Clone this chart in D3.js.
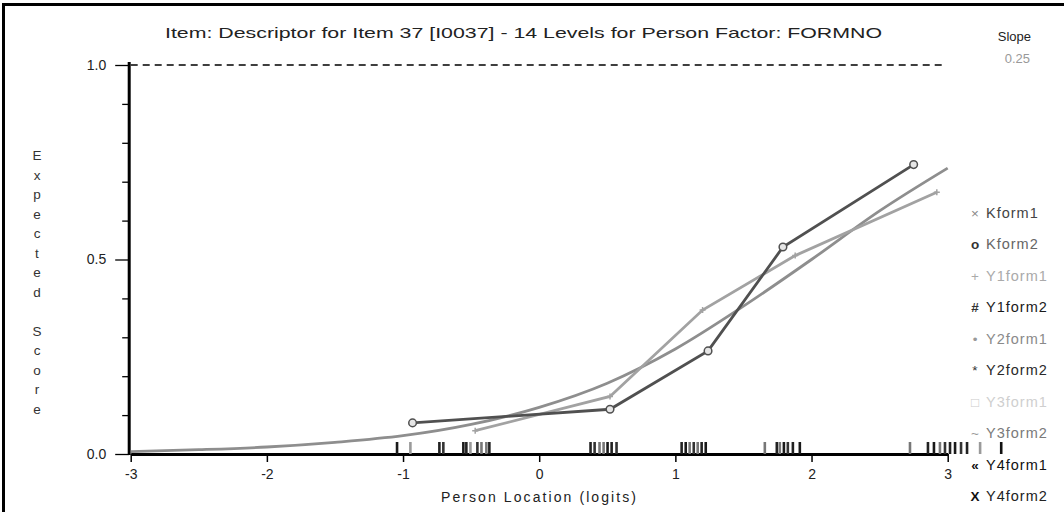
<!DOCTYPE html>
<html>
<head>
<meta charset="utf-8">
<script src="https://cdn.jsdelivr.net/npm/d3@7"></script>
<style>
  html, body { margin: 0; padding: 0; background: #fff; }
  svg { display: block; font-family: "Liberation Sans", Arial, sans-serif; }
</style>
</head>
<body>
<svg id="chart" width="1064" height="512"></svg>
<script>
// Item characteristic curve with observed class-interval means per form level
const titleText = "Item: Descriptor for Item 37 [I0037] - 14 Levels for Person Factor: FORMNO";
const xTitle = "Person Location (logits)";
const yTitle = "Expected Score";
const slopeLabel = "Slope";
const slopeValue = "0.25";

const thetaTicks = [-3, -2, -1, 0, 1, 2, 3];
const scoreTicks = [0, 0.5, 1.0];
const scoreMinorTicks = [0.1, 0.2, 0.3, 0.4, 0.6, 0.7, 0.8, 0.9];

// expected score curve, read at half-logit steps
const iccTheta = [-3, -2.5, -2, -1.5, -1, -0.5, 0, 0.5, 1, 1.5, 2, 2.5, 3];
const iccScore = [0.006, 0.011, 0.018, 0.03, 0.047, 0.076, 0.12, 0.182, 0.27, 0.38, 0.5, 0.625, 0.735];

// observed means for the two visible groups
const kform2Theta = [-0.93, 0.52, 1.24, 1.79, 2.75];
const kform2Score = [0.08, 0.115, 0.265, 0.532, 0.744];
const y1form1Theta = [-0.47, 0.52, 1.2, 1.88, 2.92];
const y1form1Score = [0.06, 0.148, 0.37, 0.51, 0.673];

// legend entries
const seriesNames = ["Kform1", "Kform2", "Y1form1", "Y1form2", "Y2form1", "Y2form2", "Y3form1", "Y3form2", "Y4form1", "Y4form2"];
const seriesSymbols = ["×", "o", "+", "#", "•", "*", "□", "~", "«", "X"];

// person locations shown as a rug along the axis, with the group each belongs to
const personLoc = [-1.044, -0.946, -0.733, -0.704, -0.557, -0.535, -0.505, -0.454, -0.424, -0.388, -0.366,
  0.377, 0.407, 0.443, 0.473, 0.502, 0.532, 0.568,
  1.046, 1.076, 1.105, 1.135, 1.164, 1.193, 1.223,
  1.657, 1.745, 1.767, 1.797, 1.826, 1.863, 1.914,
  2.723, 2.855, 2.899, 2.943, 2.98, 3.017, 3.054, 3.098, 3.142, 3.238, 3.393];
const personGroup = [9, 2, 3, 5, 9, 3, 2, 5, 7, 1, 3,
  3, 5, 7, 1, 9, 3, 5,
  3, 9, 7, 5, 1, 3, 9,
  7, 3, 1, 9, 5, 3, 9,
  7, 3, 9, 1, 5, 3, 9, 5, 3, 2, 8];

// styling
const textColor = ["#444", "#666", "#aaa", "#1a1a1a", "#8a8a8a", "#2a2a2a", "#cfcfcf", "#7a7a7a", "#111", "#222"];
const symbolColor = ["#888", "#333", "#aaa", "#333", "#999", "#333", "#ccc", "#999", "#111", "#111"];
const symbolWeight = ["normal", "bold", "normal", "bold", "normal", "normal", "normal", "normal", "bold", "bold"];
const rugColor = ["#555", "#777", "#9a9a9a", "#222", "#888", "#333", "#bbb", "#777", "#111", "#1a1a1a"];

const svg = d3.select("#chart");

// outer frame (only the left and top edges fall inside the view)
svg.append("rect")
  .attr("x", 3.5).attr("y", 4.5).attr("width", 1100).attr("height", 540)
  .attr("fill", "#fff").attr("stroke", "#000").attr("stroke-width", 3);

const x = d3.scaleLinear().domain([-3, 3]).range([130.7, 947.7]);
const y = d3.scaleLinear().domain([0, 1]).range([454, 65]);

// title
svg.append("text")
  .attr("x", 165).attr("y", 38)
  .attr("font-size", 15).attr("fill", "#222")
  .attr("textLength", 717).attr("lengthAdjust", "spacingAndGlyphs")
  .text(titleText);

// slope readout
svg.append("text").attr("x", 1031).attr("y", 41).attr("text-anchor", "end")
  .attr("font-size", 13).attr("fill", "#222").text(slopeLabel);
svg.append("text").attr("x", 1030).attr("y", 63).attr("text-anchor", "end")
  .attr("font-size", 13).attr("fill", "#999").text(slopeValue);

// dashed line at the maximum score
svg.append("line")
  .attr("x1", x(-3)).attr("x2", 945)
  .attr("y1", y(1)).attr("y2", y(1))
  .attr("stroke", "#000").attr("stroke-width", 1.3)
  .attr("stroke-dasharray", "7,5");

// y axis: minor ticks then major ticks with labels
const yMinor = svg.append("g").attr("transform", `translate(${x(-3) - 1.5},0)`)
  .call(d3.axisLeft(y).tickValues(scoreMinorTicks).tickSize(7).tickFormat(""));
yMinor.select(".domain").remove();
const yAxis = svg.append("g").attr("transform", `translate(${x(-3) - 1.5},0)`)
  .call(d3.axisLeft(y).tickValues(scoreTicks).tickSize(14).tickSizeOuter(0).tickPadding(9).tickFormat(d3.format(".1f")));
yAxis.select(".domain").attr("stroke-width", 3).attr("d", `M0,${y(0) + 1}V${y(1) - 3}`);
svg.selectAll(".tick line").attr("stroke-width", 1.3);
yAxis.selectAll("text").attr("font-size", 14).attr("fill", "#222").attr("font-family", "Liberation Sans, Arial, sans-serif");

// x axis
const xAxis = svg.append("g").attr("transform", `translate(0,${y(0)})`)
  .call(d3.axisBottom(x).tickValues(thetaTicks).tickSize(8).tickSizeOuter(0).tickPadding(7)
    .tickFormat(d => String(d)));
xAxis.select(".domain").attr("stroke-width", 3);
xAxis.selectAll(".tick line").attr("stroke-width", 1.5);
xAxis.selectAll("text").attr("font-size", 14).attr("fill", "#222").attr("font-family", "Liberation Sans, Arial, sans-serif");

// axis titles
svg.append("text").attr("x", 441).attr("y", 502)
  .attr("font-size", 14).attr("fill", "#222")
  .attr("textLength", 195).attr("lengthAdjust", "spacing")
  .text(xTitle);
svg.append("g").selectAll("text").data(yTitle.split(""))
  .join("text")
  .attr("x", 37).attr("y", (d, i) => 160 + i * 19.5)
  .attr("text-anchor", "middle")
  .attr("font-size", 13.5).attr("fill", "#333")
  .text(d => d);

// person rug
svg.append("g").selectAll("line").data(personLoc)
  .join("line")
  .attr("x1", d => x(d)).attr("x2", d => x(d))
  .attr("y1", y(0) - 12).attr("y2", y(0))
  .attr("stroke", (d, i) => rugColor[personGroup[i]])
  .attr("stroke-width", 2.6);

// expected score curve
const icc = iccTheta.map((t, i) => [t, iccScore[i]]);
svg.append("path").datum(icc)
  .attr("fill", "none").attr("stroke", "#8e8e8e").attr("stroke-width", 2.8)
  .attr("d", d3.line().x(d => x(d[0])).y(d => y(d[1])).curve(d3.curveMonotoneX));

// observed means
const y1 = y1form1Theta.map((t, i) => [t, y1form1Score[i]]);
svg.append("path").datum(y1)
  .attr("fill", "none").attr("stroke", "#a2a2a2").attr("stroke-width", 2.8)
  .attr("d", d3.line().x(d => x(d[0])).y(d => y(d[1])));
svg.append("g").selectAll("path").data(y1).join("path")
  .attr("transform", d => `translate(${x(d[0])},${y(d[1])})`)
  .attr("d", "M-3,0H3M0,-3V3")
  .attr("stroke", "#a2a2a2").attr("stroke-width", 1.5);

const k2 = kform2Theta.map((t, i) => [t, kform2Score[i]]);
svg.append("path").datum(k2)
  .attr("fill", "none").attr("stroke", "#505050").attr("stroke-width", 2.8)
  .attr("d", d3.line().x(d => x(d[0])).y(d => y(d[1])));
svg.append("g").selectAll("circle").data(k2).join("circle")
  .attr("cx", d => x(d[0])).attr("cy", d => y(d[1])).attr("r", 3.8)
  .attr("fill", "#e6e6e6").attr("stroke", "#505050").attr("stroke-width", 1.5);

// legend
const legendY = d3.scaleLinear().domain([0, seriesNames.length - 1]).range([218, 501]);
const legend = svg.append("g").selectAll("g").data(seriesNames).join("g")
  .attr("transform", (d, i) => `translate(0,${legendY(i)})`);
legend.append("text")
  .attr("x", 975).attr("text-anchor", "middle")
  .attr("font-size", 13.5)
  .attr("font-weight", (d, i) => symbolWeight[i])
  .attr("fill", (d, i) => symbolColor[i])
  .text((d, i) => seriesSymbols[i]);
legend.append("text")
  .attr("x", 986)
  .attr("font-size", 14.5)
  .attr("letter-spacing", 1)
  .attr("fill", (d, i) => textColor[i])
  .text(d => d);
</script>
</body>
</html>
